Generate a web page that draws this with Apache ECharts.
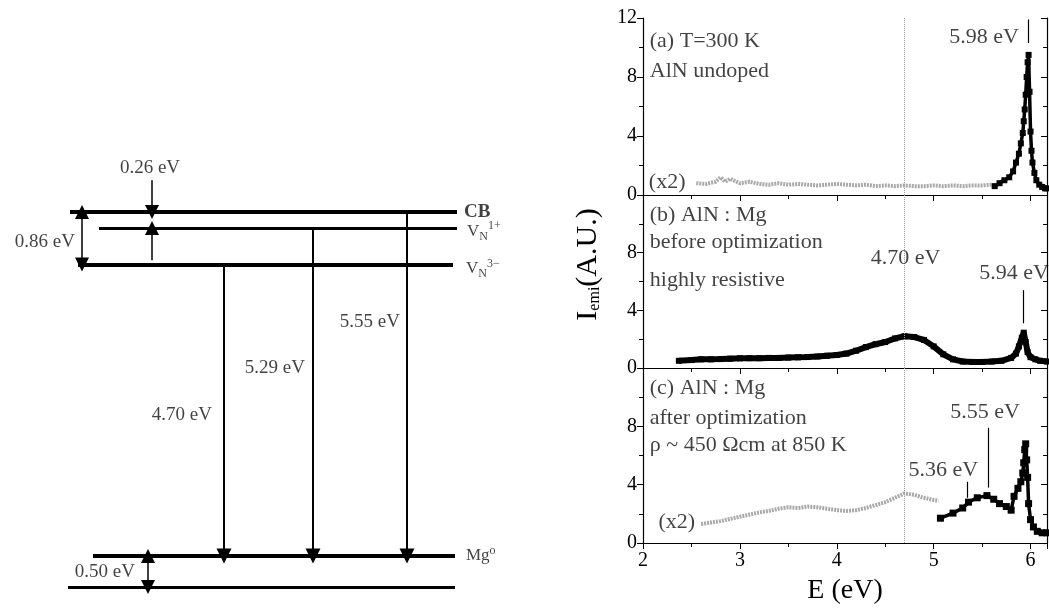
<!DOCTYPE html>
<html>
<head>
<meta charset="utf-8">
<script src="https://cdn.jsdelivr.net/npm/echarts@6/dist/echarts.min.js"></script>
<style>html,body{margin:0;padding:0;background:#fff}#chart{width:1049px;height:608px}</style>
</head>
<body>
<div id="chart"></div>
<script>
// ---- energy level diagram (eV above VB) ----
var levelNames = ['{b|CB}', 'V{sub|N}{sup|1+}', 'V{sub|N}{sup|3−}', 'Mg{sup|o}', '{b|VB}'];
var levelEnergies = [6.05, 5.79, 5.20, 0.50, 0.00];
var transitionLabels = ['4.70 eV', '5.29 eV', '5.55 eV'];
var transitionFrom = [5.20, 5.79, 6.05];
var transitionTo = [0.50, 0.50, 0.50];
var gapLabels = ['0.26 eV', '0.86 eV', '0.50 eV'];

// ---- spectra ----
var xTicks = [2, 3, 4, 5, 6];
var yTicks = [0, 4, 8, 12];

// (a) undoped, (x2) part
var aGrayE = [2.55,2.65,2.75,2.8,2.85,2.9,3.0,3.1,3.2,3.3,3.4,3.5,3.6,3.7,3.8,3.9,4.0,4.1,4.2,4.3,4.4,4.5,4.6,4.7,4.8,4.9,5.0,5.1,5.2,5.3,5.4,5.5,5.6];
var aGrayI = [0.8,0.75,0.9,1.2,0.9,1.1,0.8,0.9,0.75,0.7,0.8,0.7,0.75,0.7,0.65,0.7,0.75,0.7,0.65,0.7,0.6,0.65,0.6,0.65,0.6,0.6,0.65,0.6,0.65,0.6,0.65,0.65,0.7];
var aE = [5.63,5.68,5.73,5.78,5.82,5.85,5.88,5.9,5.92,5.93,5.94,5.95,5.96,5.97,5.98,5.99,6.0,6.01,6.02,6.04,6.06,6.09,6.12,6.15,6.17];
var aI = [0.6,0.8,1.0,1.2,1.6,2.2,2.8,3.5,4.2,5.0,5.8,6.8,8.0,9.0,9.5,7.0,4.3,3.0,2.2,1.5,1.0,0.7,0.55,0.45,0.45];

// (b) AlN:Mg before optimization
var bE = [2.37,2.5,2.6,2.7,2.8,2.9,3.0,3.1,3.2,3.3,3.4,3.5,3.6,3.7,3.8,3.9,4.0,4.1,4.2,4.3,4.4,4.5,4.6,4.7,4.8,4.9,5.0,5.1,5.2,5.3,5.4,5.5,5.6,5.7,5.8,5.85,5.88,5.91,5.93,5.95,5.97,6.0,6.05,6.1,6.17];
var bI = [0.5,0.55,0.6,0.6,0.62,0.65,0.67,0.68,0.68,0.7,0.7,0.72,0.74,0.76,0.8,0.85,0.9,1.0,1.2,1.45,1.65,1.8,2.05,2.2,2.15,1.95,1.5,0.95,0.6,0.45,0.42,0.42,0.45,0.5,0.7,1.0,1.5,2.1,2.45,1.8,1.1,0.75,0.6,0.5,0.45];

// (c) AlN:Mg after optimization
var cGrayE = [2.6,2.7,2.8,2.9,3.0,3.1,3.2,3.3,3.4,3.5,3.6,3.7,3.8,3.9,4.0,4.1,4.2,4.3,4.4,4.5,4.6,4.7,4.8,4.9,5.0,5.05];
var cGrayI = [1.3,1.4,1.5,1.65,1.8,1.95,2.1,2.2,2.35,2.45,2.4,2.5,2.45,2.35,2.25,2.2,2.25,2.4,2.6,2.8,3.1,3.4,3.3,3.1,2.95,2.9];
var cE = [5.07,5.2,5.3,5.36,5.45,5.55,5.62,5.68,5.75,5.8,5.83,5.87,5.9,5.92,5.93,5.94,5.95,5.96,5.97,5.98,6.0,6.03,6.07,6.12,6.17];
var cI = [1.7,2.05,2.4,2.8,3.1,3.25,3.0,2.7,2.5,2.25,3.2,3.75,4.2,4.8,5.5,6.4,6.8,5.7,4.5,2.7,1.6,1.1,0.8,0.7,0.7];

var markE = 4.70;

function zip(x, y) {
    var out = [];
    for (var i = 0; i < x.length; i++) out.push([x[i], y[i]]);
    return out;
}

var font = 'Liberation Serif';
var dom = document.getElementById('chart');
var myChart = echarts.init(dom, null, {renderer: 'canvas'});

var panelGrids = [
    {left: 643, right: 2, top: 18, height: 177},
    {left: 643, right: 2, top: 195, height: 173},
    {left: 643, right: 2, top: 368, height: 175}
];
var grids = panelGrids.map(function (g) {
    return {left: g.left, right: g.right, top: g.top, height: g.height, show: false};
});
grids.push({left: 0, top: 153, width: 470, height: 434, show: false}); // diagram

var xAxes = [], yAxes = [];
var axLine = {show: true, lineStyle: {color: '#000', width: 1.2}};
for (var i = 0; i < 3; i++) {
    xAxes.push({
        type: 'value', gridIndex: i, min: 2, max: 6.17, interval: 1, position: 'bottom',
        axisLine: axLine,
        axisTick: {show: true, inside: false, length: 6, lineStyle: {color: '#000'}},
        minorTick: {show: true, splitNumber: 2, length: 4, lineStyle: {color: '#000'}},
        splitLine: {show: false},
        axisLabel: {show: i === 2, showMaxLabel: false, color: '#000', fontFamily: font, fontSize: 20, margin: 8,
            formatter: function (v) { return xTicks.indexOf(v) >= 0 ? String(v) : ''; }},
        name: i === 2 ? 'E (eV)' : '', nameLocation: 'middle', nameGap: 34,
        nameTextStyle: {color: '#000', fontFamily: font, fontSize: 28}
    });
}
for (var i = 0; i < 3; i++) {
    xAxes.push({
        type: 'value', gridIndex: i, min: 2, max: 6.17, interval: 1, position: 'top',
        axisLine: axLine,
        axisTick: {show: true, inside: true, length: 6, lineStyle: {color: '#000'}},
        minorTick: {show: true, splitNumber: 2, length: 4, lineStyle: {color: '#000'}},
        splitLine: {show: false}, axisLabel: {show: false}
    });
}
xAxes.push({type: 'value', gridIndex: 3, min: 0, max: 470, show: false});

for (var i = 0; i < 3; i++) {
    yAxes.push({
        type: 'value', gridIndex: i, min: 0, max: 12, interval: 4, position: 'left',
        axisLine: axLine,
        axisTick: {show: true, inside: false, length: 6, lineStyle: {color: '#000'}},
        minorTick: {show: true, splitNumber: 2, length: 4, lineStyle: {color: '#000'}},
        splitLine: {show: false},
        axisLabel: {color: '#000', fontFamily: font, fontSize: 20, margin: 6,
            formatter: (function (k) {
                return function (v) {
                    if (yTicks.indexOf(v) < 0) return '';
                    if (k > 0 && v === 12) return '';
                    return String(v);
                };
            })(i)},
        name: i === 1 ? 'I{sub|emi}(A.U.)' : '', nameLocation: 'middle', nameGap: 40, nameRotate: 90,
        nameTextStyle: {color: '#000', fontFamily: font, fontSize: 30, padding: [0, 0, 0, 34],
            rich: {sub: {fontFamily: font, fontSize: 16, color: '#000', padding: [14, 0, 0, 0]}}}
    });
}
for (var i = 0; i < 3; i++) {
    yAxes.push({
        type: 'value', gridIndex: i, min: 0, max: 12, interval: 4, position: 'right',
        axisLine: axLine,
        axisTick: {show: true, inside: true, length: 6, lineStyle: {color: '#000'}},
        minorTick: {show: true, splitNumber: 2, length: 4, lineStyle: {color: '#000'}},
        splitLine: {show: false}, axisLabel: {show: false}
    });
}
yAxes.push({type: 'value', gridIndex: 3, min: 0, max: 7, show: false});

var grayLine = {color: '#a9a9a9', width: 4, type: [2, 1]};

function graySeries(k, x, y) {
    return {
        type: 'line', xAxisIndex: k, yAxisIndex: k, data: zip(x, y),
        symbol: 'none', lineStyle: grayLine, silent: true, z: 2
    };
}
function blackSeries(k, x, y, w, size, pointers) {
    var ml = [{xAxis: markE, lineStyle: {color: '#9a9a9a', type: 'dotted', width: 1}}];
    pointers.forEach(function (p) {
        ml.push([{coord: [p[0], p[1]], lineStyle: {color: '#000', type: 'solid', width: 1.2}}, {coord: [p[0], p[2]]}]);
    });
    return {
        type: 'line', xAxisIndex: k, yAxisIndex: k, data: zip(x, y),
        symbol: 'rect', symbolSize: size, showAllSymbol: true,
        itemStyle: {color: '#000'}, lineStyle: {color: '#000', width: w}, z: 3,
        markLine: {silent: true, symbol: 'none', label: {show: false}, data: ml}
    };
}
function textSeries(xi, yi, items, size) {
    return {
        type: 'scatter', xAxisIndex: xi, yAxisIndex: yi, symbolSize: 0, silent: true, z: 5,
        data: items.map(function (t) {
            return {name: t[2], value: [t[0], t[1]], label: {align: t[3] || 'left'}};
        }),
        label: {
            show: true, position: [0, 0], verticalAlign: 'middle', color: '#111',
            fontFamily: font, fontSize: size,
            formatter: function (p) { return p.name; },
            rich: {
                b: {fontFamily: font, fontSize: size + 2, fontWeight: 'bold', color: '#111'},
                sub: {fontFamily: font, fontSize: size - 5, color: '#111', padding: [10, 0, 0, 0]},
                sup: {fontFamily: font, fontSize: size - 5, color: '#111', padding: [0, 0, 11, 0]}
            }
        }
    };
}

var series = [];
// panel (a)
series.push(graySeries(0, aGrayE, aGrayI));
series.push(blackSeries(0, aE, aI, 3.5, 6, [[5.98, 11.9, 10.3]]));
series.push(textSeries(0, 0, [
    [2.07, 10.4, '(a) T=300 K'], [2.07, 8.4, 'AlN undoped'],
    [5.88, 10.7, '5.98 eV', 'right'], [2.06, 0.85, '(x2)']
], 22));
// panel (b)
series.push(blackSeries(1, bE, bI, 6, 6, [[5.93, 5.4, 3.1]]));
series.push(textSeries(1, 1, [
    [2.07, 10.6, '(b) AlN : Mg'], [2.07, 8.7, 'before optimization'], [2.07, 6.1, 'highly resistive'],
    [4.71, 7.6, '4.70 eV', 'center'], [5.47, 6.6, '5.94 eV']
], 22));
// panel (c)
series.push(graySeries(2, cGrayE, cGrayI));
series.push(blackSeries(2, cE, cI, 3.5, 7, [[5.56, 7.9, 3.8], [5.35, 4.2, 3.1]]));
series.push(textSeries(2, 2, [
    [2.07, 10.6, '(c) AlN : Mg'], [2.07, 8.55, 'after optimization'], [2.07, 6.7, 'ρ ~ 450 Ωcm at 850 K'],
    [5.53, 9.0, '5.55 eV', 'center'], [5.10, 5.0, '5.36 eV', 'center'], [2.16, 1.4, '(x2)']
], 22));

// diagram: level lines (x extents are layout only)
var levelSpan = [[70, 457], [99, 457], [78, 453], [93, 455], [68, 455]];
var levelWidth = [4, 3, 4, 4, 3];
series.push({
    type: 'lines', coordinateSystem: 'cartesian2d', xAxisIndex: 6, yAxisIndex: 6, silent: true, clip: false,
    symbol: 'none',
    data: levelEnergies.map(function (e, i) {
        return {coords: [[levelSpan[i][0], e], [levelSpan[i][1], e]], lineStyle: {width: levelWidth[i], color: '#000', opacity: 1}};
    })
});
// transitions
var transitionX = [224, 313, 407];
series.push({
    type: 'lines', coordinateSystem: 'cartesian2d', xAxisIndex: 6, yAxisIndex: 6, silent: true, clip: false,
    symbol: ['none', 'triangle'], symbolSize: 15,
    lineStyle: {color: '#000', width: 2, opacity: 1},
    data: transitionFrom.map(function (e, i) {
        return {coords: [[transitionX[i], e], [transitionX[i], transitionTo[i]]]};
    })
});
// gap markers
series.push({
    type: 'lines', coordinateSystem: 'cartesian2d', xAxisIndex: 6, yAxisIndex: 6, silent: true, clip: false,
    symbol: ['none', 'triangle'], symbolSize: 14,
    lineStyle: {color: '#000', width: 1.5, opacity: 1},
    data: [
        {coords: [[152, 6.56], [152, levelEnergies[0]]]},
        {coords: [[152, 5.27], [152, levelEnergies[1]]]}
    ]
});
series.push({
    type: 'lines', coordinateSystem: 'cartesian2d', xAxisIndex: 6, yAxisIndex: 6, silent: true, clip: false,
    symbol: ['triangle', 'triangle'], symbolSize: 14,
    lineStyle: {color: '#000', width: 1.5, opacity: 1},
    data: [
        {coords: [[82, levelEnergies[0]], [82, levelEnergies[2]]]},
        {coords: [[148, levelEnergies[3]], [148, levelEnergies[4]]]}
    ]
});
series.push(textSeries(6, 6, [
    [150, 6.76, gapLabels[0], 'center'], [75, 5.56, gapLabels[1], 'right'], [135, 0.24, gapLabels[2], 'right'],
    [212, 2.77, transitionLabels[0], 'right'], [305, 3.53, transitionLabels[1], 'right'], [400, 4.27, transitionLabels[2], 'right']
], 19));
series.push(textSeries(6, 6, [
    [464, levelEnergies[0], levelNames[0]], [467, levelEnergies[1] - 0.06, levelNames[1]], [466, levelEnergies[2] - 0.07, levelNames[2]],
    [466, levelEnergies[3], levelNames[3]], [462, levelEnergies[4] - 0.02, levelNames[4]]
], 17));

var option = {
    backgroundColor: '#fff',
    animation: false,
    grid: grids,
    xAxis: xAxes,
    yAxis: yAxes,
    series: series
};
myChart.setOption(option, true);
</script>
</body>
</html>
